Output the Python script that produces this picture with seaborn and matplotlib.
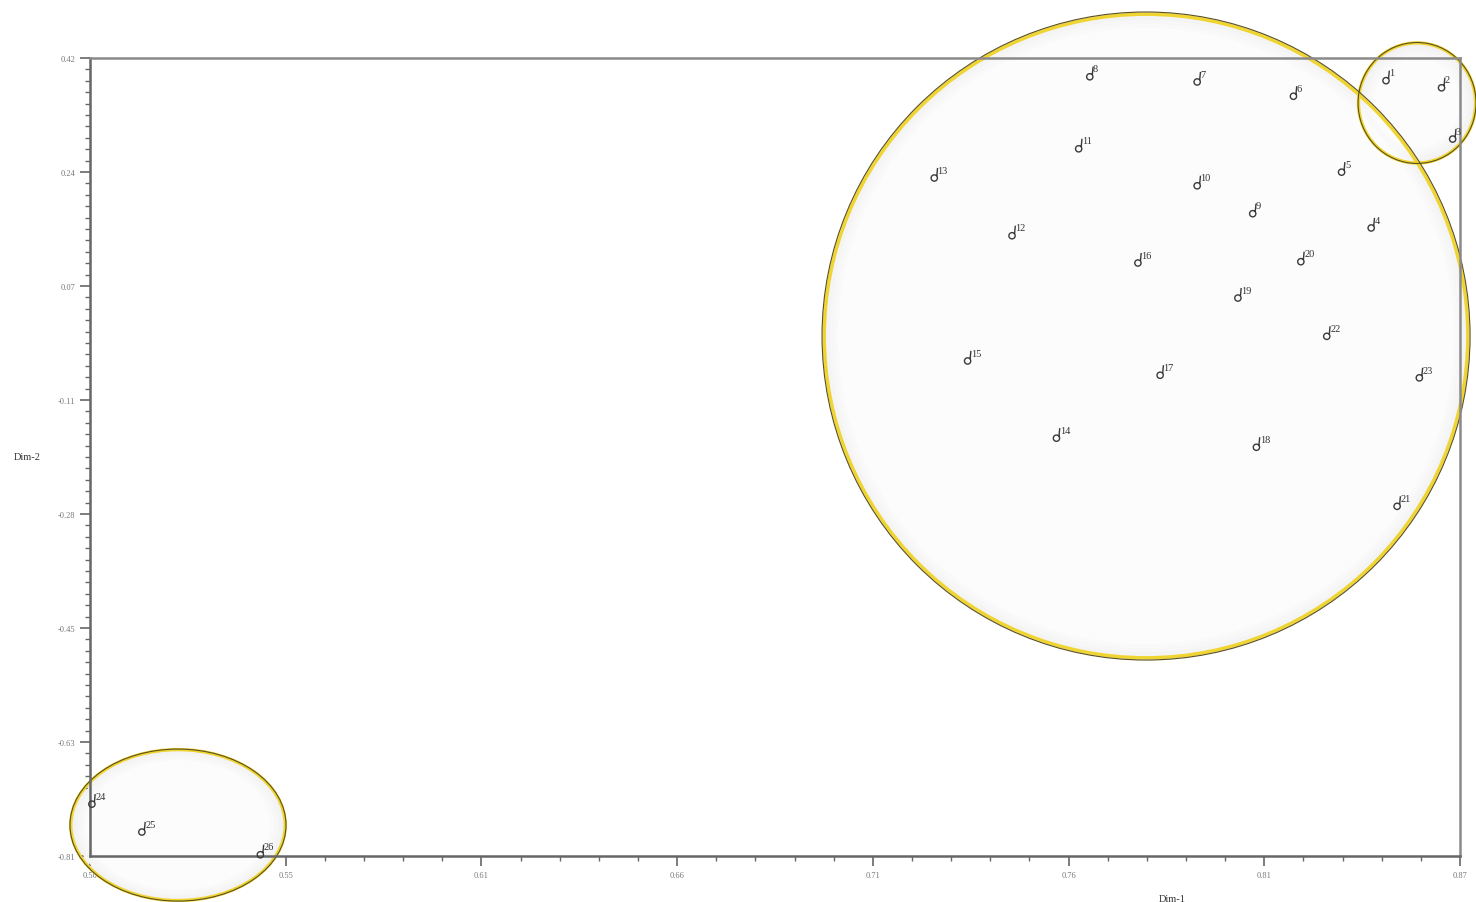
import numpy as np
import pandas as pd
import seaborn as sns
import matplotlib.pyplot as plt
from matplotlib.path import Path
from matplotlib.patches import Ellipse
from matplotlib.ticker import AutoMinorLocator

# values
labels = list(range(1, 27))
dim1 = [0.850, 0.865, 0.868, 0.846, 0.838, 0.825, 0.799, 0.770, 0.814, 0.799,
        0.767, 0.749, 0.728, 0.761, 0.737, 0.783, 0.789, 0.815, 0.810, 0.827,
        0.853, 0.834, 0.859, 0.5005, 0.514, 0.546]
dim2 = [0.385, 0.374, 0.295, 0.158, 0.244, 0.361, 0.383, 0.391, 0.180, 0.223,
        0.280, 0.146, 0.235, -0.166, -0.047, 0.104, -0.069, -0.180, 0.050, 0.106,
        -0.271, -0.009, -0.073, -0.730, -0.773, -0.808]
xtick_labels = ["0.50", "0.55", "0.61", "0.66", "0.71", "0.76", "0.81", "0.87"]
ytick_labels = ["-0.81", "-0.63", "-0.45", "-0.28", "-0.11", "0.07", "0.24", "0.42"]

df = pd.DataFrame({"label": labels, "Dim-1": dim1, "Dim-2": dim2})

sns.set_style("white")
plt.rcParams["font.family"] = ["Liberation Serif", "DejaVu Serif"]

fig = plt.figure(figsize=(14.76, 9.03), dpi=100)
ax = fig.add_axes([0.061, 0.0509, 0.9282, 0.8838])

# highlight ellipses (axes fraction: cx, cy, w, h)
rings = [(0.7708, 0.6516, 0.473, 0.812),
         (0.9686, 0.9436, 0.0861, 0.1516),
         (0.0642, 0.0388, 0.1577, 0.1905)]
shades = ["#f1f1f1", "#f4f4f4", "#f7f7f7", "#f9f9f9", "#fcfcfc"]
for cx, cy, w, h in rings:
    # soft grey glow fading toward the middle
    for i, c in enumerate(shades):
        k = 1 - i * 0.012 * (648 / max(w * 1370, 120))
        ax.add_patch(Ellipse((cx, cy), w * k, h * k, transform=ax.transAxes, clip_on=False,
                             facecolor=c, edgecolor="none", zorder=0.5 + i * 0.01))
    ax.add_patch(Ellipse((cx, cy), w * 0.993, h * 0.993, transform=ax.transAxes, clip_on=False,
                         facecolor="none", edgecolor="#f0d430", lw=2.4, zorder=0.7))
    ax.add_patch(Ellipse((cx, cy), w, h, transform=ax.transAxes, clip_on=False,
                         facecolor="none", edgecolor="#5a5020", lw=0.8, zorder=0.8))

# circle with a little stem, like the original symbol
circle = Path.circle((0, 0), 1.0)
stem = Path([(0.8, 0.6), (1.05, 3.2)], [Path.MOVETO, Path.LINETO])
marker = Path.make_compound_path(circle, stem)

sns.scatterplot(data=df, x="Dim-1", y="Dim-2", marker=marker, s=210,
                facecolor="none", edgecolor="#3a3a3a", linewidth=1.0,
                ax=ax, clip_on=False, zorder=3, legend=False)

for lab, x, y in zip(labels, dim1, dim2):
    ax.annotate(str(lab), (x, y), xytext=(2.4, 2.4),
                textcoords="offset points", ha="left", va="bottom",
                fontsize=7.5, color="#333333", zorder=4, annotation_clip=False)

ax.set_xlim(0.50, 0.87)
ax.set_ylim(-0.81, 0.42)
ax.set_xticks(np.linspace(0.50, 0.87, 8))
ax.set_xticklabels(xtick_labels)
ax.set_yticks(np.linspace(-0.81, 0.42, 8))
ax.set_yticklabels(ytick_labels)
ax.xaxis.set_minor_locator(AutoMinorLocator(5))
ax.yaxis.set_minor_locator(AutoMinorLocator(10))
ax.tick_params(axis="both", which="major", direction="out", length=7, width=1.2,
               color="#666666", labelsize=6, labelcolor="#777777",
               bottom=True, left=True, top=False, right=False)
ax.tick_params(axis="both", which="minor", direction="out", length=3.5, width=1.0,
               color="#666666", bottom=True, left=True, top=False, right=False)

for side in ["left", "bottom"]:
    ax.spines[side].set_color("#666666")
    ax.spines[side].set_linewidth(1.8)
for side in ["top", "right"]:
    ax.spines[side].set_color("#8a8a8a")
    ax.spines[side].set_linewidth(1.8)

ax.set_xlabel("Dim-1", fontsize=7.5, color="#333333")
ax.set_ylabel("Dim-2", fontsize=7.5, color="#333333", rotation=0)
ax.xaxis.set_label_coords(0.79, -0.048)
ax.yaxis.set_label_coords(-0.046, 0.495)

plt.savefig("out.png", dpi=100)
